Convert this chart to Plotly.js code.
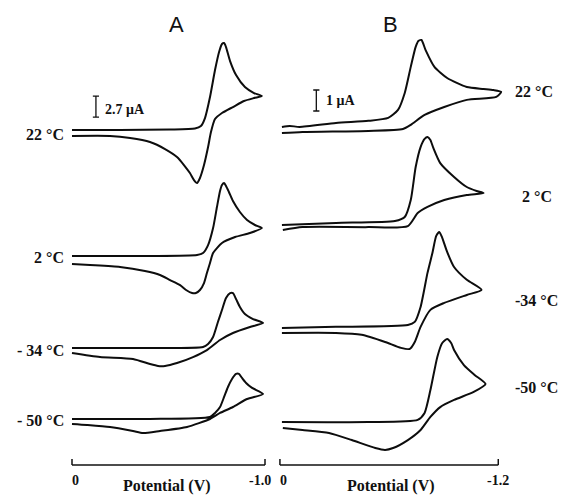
<!DOCTYPE html>
<html>
<head>
<meta charset="utf-8">
<script src="https://cdn.plot.ly/plotly-3.0.1.min.js"></script>
<style>html,body{margin:0;padding:0;background:#fff;}#chart{width:567px;height:498px;}</style>
</head>
<body>
<div id="chart"></div>
<script>
// ---------- DATA (potential in V, current in µA relative to each curve's start) ----------
const panelTitles = ["A", "B"];
const tempLabelsA = ["22 °C", "2 °C", "- 34 °C", "- 50 °C"];
const tempLabelsB = ["22 °C", "2 °C", "-34 °C", "-50 °C"];
const tickValsA = [0, -1.0];
const tickTextA = ["0", "-1.0"];
const tickValsB = [0, -1.2];
const tickTextB = ["0", "-1.2"];
const scaleBarA = 2.7;   // µA
const scaleBarB = 1;     // µA
const xTitle = "Potential (V)";

// Panel A
const potA22 = [0, -0.249, -0.508, -0.637, -0.668, -0.689, -0.715, -0.741, -0.762, -0.777, -0.788, -0.798, -0.819, -0.850, -0.896, -0.943, -0.984,
  -0.943, -0.891, -0.834, -0.777, -0.741, -0.720, -0.705, -0.684, -0.663, -0.648, -0.632, -0.611, -0.580, -0.544, -0.482, -0.404, -0.301, -0.197, 0];
const curA22 = [0, 0, 0.06, 0.19, 0.51, 1.54, 4.24, 7.71, 10.03, 11.06, 11.19, 10.67, 8.87, 7.07, 5.53, 4.76, 4.37,
  4.11, 3.73, 2.96, 2.19, 1.41, -0.26, -2.19, -4.50, -6.17, -6.81, -6.43, -5.53, -4.50, -3.47, -2.44, -1.54, -1.03, -0.77, -0.77];

const potA2 = [0, -0.404, -0.648, -0.679, -0.705, -0.731, -0.751, -0.767, -0.777, -0.788, -0.798, -0.813, -0.834, -0.870, -0.907, -0.948, -0.984,
  -0.922, -0.845, -0.777, -0.731, -0.715, -0.699, -0.684, -0.663, -0.642, -0.622, -0.591, -0.560, -0.508, -0.456, -0.378, -0.249, -0.093, 0];
const curA2 = [0, 0, 0.13, 0.39, 1.41, 3.60, 6.30, 8.36, 9.13, 9.39, 9.00, 8.23, 7.07, 5.66, 4.63, 3.99, 3.60,
  2.96, 2.44, 1.67, 0.39, -0.90, -2.19, -3.47, -4.37, -4.76, -4.76, -4.37, -3.73, -3.09, -2.44, -1.93, -1.41, -1.16, -1.03];

const potAm34 = [0, -0.404, -0.679, -0.705, -0.731, -0.756, -0.777, -0.798, -0.819, -0.834, -0.850, -0.870, -0.896, -0.938, -0.990,
  -0.922, -0.834, -0.767, -0.699, -0.627, -0.544, -0.482, -0.446, -0.404, -0.316, -0.145, 0];
const curAm34 = [0, 0, 0.13, 0.51, 1.41, 3.34, 4.89, 6.43, 7.07, 7.07, 6.30, 5.27, 4.37, 3.73, 3.21,
  2.70, 1.93, 1.03, -0.26, -1.16, -1.93, -2.31, -2.31, -2.06, -1.41, -1.16, -0.64];

const potAm50 = [0, -0.404, -0.715, -0.741, -0.767, -0.788, -0.808, -0.829, -0.850, -0.865, -0.881, -0.902, -0.933, -0.990,
  -0.907, -0.834, -0.767, -0.715, -0.596, -0.456, -0.368, -0.316, -0.197, -0.078, 0];
const curAm50 = [0, 0, 0.26, 0.77, 1.54, 2.83, 4.11, 5.14, 5.79, 5.79, 5.27, 4.63, 3.99, 3.21,
  2.57, 1.54, 0.77, 0, -1.03, -1.54, -1.80, -1.54, -1.03, -0.77, -0.64];

// Panel B
const potB22 = [-0.011, -0.054, -0.108, -0.308, -0.486, -0.595, -0.649, -0.686, -0.719, -0.746, -0.762, -0.778, -0.800, -0.849, -0.919, -1.027, -1.119, -1.173, -1.216,
  -1.189, -1.027, -0.903, -0.795, -0.719, -0.676, -0.486, -0.124, -0.011];
const curB22 = [0, 0.05, 0, 0.19, 0.29, 0.43, 0.81, 1.62, 2.86, 3.81, 4.10, 4.14, 3.67, 2.86, 2.33, 1.90, 1.81, 1.76, 1.67,
  1.43, 1.29, 0.95, 0.57, 0.10, -0.10, -0.19, -0.24, -0.29];

const potB2 = [-0.011, -0.308, -0.632, -0.686, -0.719, -0.746, -0.773, -0.795, -0.811, -0.827, -0.843, -0.881, -0.957, -1.027, -1.081, -1.119,
  -1.027, -0.903, -0.811, -0.757, -0.703, -0.486, -0.124, -0.016];
const curB2 = [0, 0.10, 0.19, 0.38, 1.19, 2.76, 3.71, 4.10, 4.19, 4.05, 3.67, 2.95, 2.29, 1.81, 1.62, 1.52,
  1.43, 1.19, 0.86, 0.57, -0.05, -0.10, -0.10, -0.24];

const potBm34 = [-0.011, -0.308, -0.703, -0.741, -0.773, -0.811, -0.838, -0.859, -0.876, -0.892, -0.919, -0.957, -1.027, -1.108,
  -1.027, -0.903, -0.827, -0.773, -0.741, -0.714, -0.665, -0.578, -0.449, -0.308, -0.011];
const curBm34 = [0, 0.05, 0.14, 0.29, 1.00, 2.62, 3.57, 4.38, 4.57, 4.29, 3.62, 2.90, 2.29, 1.81,
  1.57, 1.19, 0.86, 0.05, -0.67, -1.00, -0.95, -0.67, -0.33, -0.24, -0.24];

const potBm50 = [-0.011, -0.486, -0.757, -0.795, -0.827, -0.865, -0.892, -0.919, -0.941, -0.957, -1.011, -1.070, -1.130,
  -1.065, -0.957, -0.881, -0.827, -0.773, -0.703, -0.622, -0.578, -0.524, -0.395, -0.270, -0.124, -0.016];
const curBm50 = [0, 0, 0.10, 0.43, 1.52, 3.10, 3.76, 3.95, 3.76, 3.43, 2.71, 2.24, 1.81,
  1.43, 1.05, 0.71, 0.24, -0.38, -0.86, -1.24, -1.33, -1.24, -0.86, -0.52, -0.38, -0.29];

// ---------- LAYOUT / STYLE ----------
const W = 567, H = 498;
const px = x => x / W;
const py = y => 1 - y / H;
// vertical stacking offsets (display only)
const offsetsA = [42.94, 26.74, 14.91, 5.79];
const offsetsB = [16.05, 11.38, 6.48, 2.00];
const curvesA = [[potA22, curA22], [potA2, curA2], [potAm34, curAm34], [potAm50, curAm50]];
const curvesB = [[potB22, curB22], [potB2, curB2], [potBm34, curBm34], [potBm50, curBm50]];

const lineStyle = {color: '#0d0d0d', width: 2, shape: 'spline', smoothing: 0.6};
const traces = [];
curvesA.forEach((c, i) => traces.push({x: c[0], y: c[1].map(v => v + offsetsA[i]), xaxis: 'x', yaxis: 'y',
  mode: 'lines', line: lineStyle, hoverinfo: 'skip'}));
curvesB.forEach((c, i) => traces.push({x: c[0], y: c[1].map(v => v + offsetsB[i]), xaxis: 'x2', yaxis: 'y2',
  mode: 'lines', line: lineStyle, hoverinfo: 'skip'}));

const serif = 'Liberation Serif, Times New Roman, serif';
const hidden = {showgrid: false, zeroline: false, showline: false, ticks: '', showticklabels: false, fixedrange: true};
const layout = {
  width: W, height: H,
  margin: {l: 0, r: 0, t: 0, b: 0},
  paper_bgcolor: '#fff', plot_bgcolor: 'rgba(0,0,0,0)',
  showlegend: false,
  xaxis: Object.assign({}, hidden, {domain: [px(62), px(275)], range: [0.0518, -1.0518], anchor: 'y'}),
  yaxis: Object.assign({}, hidden, {domain: [34 / H, 1], range: [0, 59.66], anchor: 'x'}),
  xaxis2: Object.assign({}, hidden, {domain: [px(276), px(515)], range: [0.0216, -1.2919], anchor: 'y2'}),
  yaxis2: Object.assign({}, hidden, {domain: [34 / H, 1], range: [0, 22.095], anchor: 'x2'}),
  shapes: [], annotations: []
};

const axisY = py(465), tickTop = py(459);
function bracket(xref, vals) {
  layout.shapes.push({type: 'line', xref: xref, yref: 'paper', x0: vals[0], x1: vals[vals.length - 1], y0: axisY, y1: axisY,
    line: {color: '#111', width: 1.5}});
  vals.forEach(v => layout.shapes.push({type: 'line', xref: xref, yref: 'paper', x0: v, x1: v, y0: axisY, y1: tickTop,
    line: {color: '#111', width: 1.5}}));
}
bracket('x', tickValsA);
bracket('x2', tickValsB);

// tick labels
const tickFont = {family: serif, size: 14, color: '#111'};
tickValsA.forEach((v, i) => layout.annotations.push({xref: 'x', yref: 'paper', x: v, y: py(480), text: '<b>' + tickTextA[i] + '</b>',
  showarrow: false, xanchor: i === 0 ? 'left' : 'center', xshift: i === 0 ? -2 : -5, yanchor: 'middle', font: tickFont}));
tickValsB.forEach((v, i) => layout.annotations.push({xref: 'x2', yref: 'paper', x: v, y: py(480), text: '<b>' + tickTextB[i] + '</b>',
  showarrow: false, xanchor: i === 0 ? 'left' : 'center', xshift: i === 0 ? -2 : 0, yanchor: 'middle', font: tickFont}));

// axis titles
const titleFont = {family: serif, size: 16, color: '#111'};
[['x', -0.49], ['x2', -0.61]].forEach(a => layout.annotations.push({xref: a[0], yref: 'paper', x: a[1], y: py(497),
  text: '<b>' + xTitle + '</b>', showarrow: false, xanchor: 'center', yanchor: 'bottom', font: titleFont}));

// panel titles
const panelFont = {family: 'Liberation Sans, Arial, sans-serif', size: 22, color: '#111'};
layout.annotations.push({xref: 'paper', yref: 'paper', x: px(176), y: py(24), text: panelTitles[0], showarrow: false,
  xanchor: 'center', yanchor: 'middle', font: panelFont});
layout.annotations.push({xref: 'paper', yref: 'paper', x: px(390), y: py(24), text: panelTitles[1], showarrow: false,
  xanchor: 'center', yanchor: 'middle', font: panelFont});

// temperature labels
const tempFont = {family: serif, size: 16, color: '#111'};
const tempYA = [134, 257, 350, 420];
const tempYB = [92, 196, 300, 387];
tempLabelsA.forEach((t, i) => layout.annotations.push({xref: 'paper', yref: 'paper', x: px(66), y: py(tempYA[i]),
  text: '<b>' + t + '</b>', showarrow: false, xanchor: 'right', yanchor: 'middle', font: tempFont}));
tempLabelsB.forEach((t, i) => layout.annotations.push({xref: 'paper', yref: 'paper', x: px(i === 1 ? 520 : 513), y: py(tempYB[i]),
  text: '<b>' + t + '</b>', showarrow: false, xanchor: 'left', yanchor: 'middle', font: tempFont}));

// scale bars
function scaleBar(xref, yref, xv, y0, len, hw) {
  layout.shapes.push({type: 'path', xref: xref, yref: yref,
    path: `M ${xv - hw},${y0} L ${xv + hw},${y0} M ${xv},${y0} L ${xv},${y0 + len} M ${xv - hw},${y0 + len} L ${xv + hw},${y0 + len}`,
    line: {color: '#111', width: 1.3}});
}
scaleBar('x', 'y', -0.124, 44.61, scaleBarA, 0.016);
scaleBar('x2', 'y2', -0.200, 16.81, scaleBarB, 0.017);
const barFont = {family: serif, size: 14, color: '#111'};
layout.annotations.push({xref: 'paper', yref: 'paper', x: px(103), y: py(110), text: '<b>' + scaleBarA + ' μA</b>',
  showarrow: false, xanchor: 'left', yanchor: 'middle', font: barFont});
layout.annotations.push({xref: 'paper', yref: 'paper', x: px(324), y: py(101), text: '<b>' + scaleBarB + ' μA</b>',
  showarrow: false, xanchor: 'left', yanchor: 'middle', font: barFont});

Plotly.newPlot('chart', traces, layout, {staticPlot: true, displayModeBar: false});
</script>
</body>
</html>
